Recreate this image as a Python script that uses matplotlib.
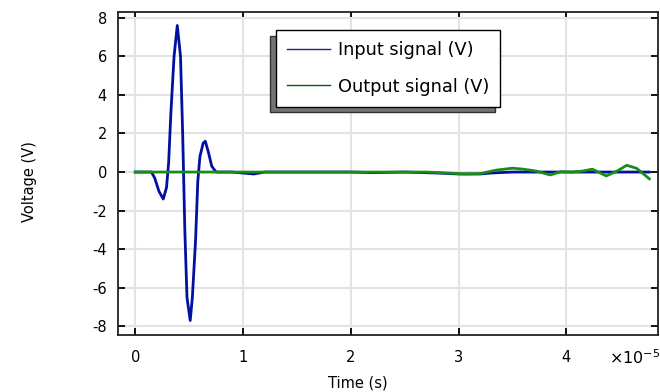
import matplotlib
matplotlib.use("Agg")
import matplotlib.pyplot as plt
import numpy as np

# Time in units of 1e-5 s
t_in = [0, 0.15, 0.18, 0.22, 0.26, 0.29, 0.31, 0.33, 0.36, 0.39, 0.42, 0.44, 0.46, 0.48,
        0.51, 0.53, 0.56, 0.58, 0.60, 0.63, 0.65, 0.68, 0.71, 0.75, 0.90, 1.0, 1.1, 1.2,
        2.0, 2.2, 2.5, 2.8, 3.0, 3.2, 3.3, 3.5, 3.7, 4.0, 4.3, 4.5, 4.7, 4.77]
v_in = [0, 0, -0.3, -1.0, -1.4, -0.8, 0.5, 3.0, 6.0, 7.6, 6.0, 2.0, -3.0, -6.5,
        -7.7, -6.5, -3.5, -0.5, 0.8, 1.5, 1.6, 1.0, 0.3, 0.0, 0.0, -0.05, -0.1, 0.0,
        0.0, -0.03, 0.0, -0.05, -0.1, -0.1, -0.05, 0.0, 0.0, 0.0, 0.0, 0.0, 0.0, 0.0]

t_out = [0, 2.7, 2.9, 3.05, 3.2, 3.35, 3.5, 3.6, 3.72, 3.85, 3.95, 4.05, 4.15, 4.24,
         4.37, 4.47, 4.56, 4.65, 4.77]
v_out = [0, 0, -0.05, -0.1, -0.08, 0.1, 0.2, 0.15, 0.05, -0.15, 0.02, 0.0, 0.05, 0.15,
         -0.2, 0.05, 0.35, 0.2, -0.35]

xticks = [0, 1, 2, 3, 4]
yticks = [-8, -6, -4, -2, 0, 2, 4, 6, 8]

plt.rcParams['font.family'] = ['DejaVu Sans']
plt.rcParams['axes.unicode_minus'] = False
fig = plt.figure(figsize=(6.6, 3.92), dpi=100)
ax = fig.add_axes([118/660, 1-335/392, 540/660, 323/392])

ax.plot(t_in, v_in, color='#0010a0', lw=2.0, label='Input signal (V)')
ax.plot(t_out, v_out, color='#1a8c1a', lw=2.0, label='Output signal (V)')

ax.set_xlim(-0.16, 4.85)
ax.set_ylim(-8.45, 8.3)
ax.set_xticks(xticks)
ax.set_yticks(yticks)
ax.grid(True, color='#e3e3e3', lw=1.5)
ax.set_axisbelow(True)
ax.tick_params(direction='in', top=True, right=True, length=5, width=1.3, labelsize=10.5)
ax.tick_params(axis='x', pad=11)
ax.tick_params(axis='y', pad=8)
for s in ax.spines.values():
    s.set_linewidth(1.3)
    s.set_color('#222222')

ax.set_xlabel('Time (s)', fontsize=10.5)
ax.set_ylabel('Voltage (V)', fontsize=10.5)
ax.xaxis.set_label_coords((358-118)/540, -(375-335)/323)
ax.yaxis.set_label_coords((37-118)/540, (335-182)/323)
ax.text(1.005, -(358-335)/323, r'$\times 10^{-5}$', transform=ax.transAxes,
        ha='right', va='center', fontsize=11.5)

leg = ax.legend(loc='upper left', bbox_to_anchor=((276-118)/540, (335-30)/323),
                fancybox=False, framealpha=1, edgecolor='black', fontsize=12.8,
                handlelength=2.4, handletextpad=0.45, borderpad=0.62, labelspacing=1.05,
                borderaxespad=0,
                shadow={'ox': -4, 'oy': -4, 'facecolor': '0.45', 'edgecolor': '0.2', 'alpha': 1})
leg.get_frame().set_linewidth(1.0)
for h, c in zip(leg.get_lines(), ['#1a237e', '#0b5d0b']):
    h.set_linewidth(1.0)
    h.set_color(c)

fig.savefig('out.png', dpi=100)
